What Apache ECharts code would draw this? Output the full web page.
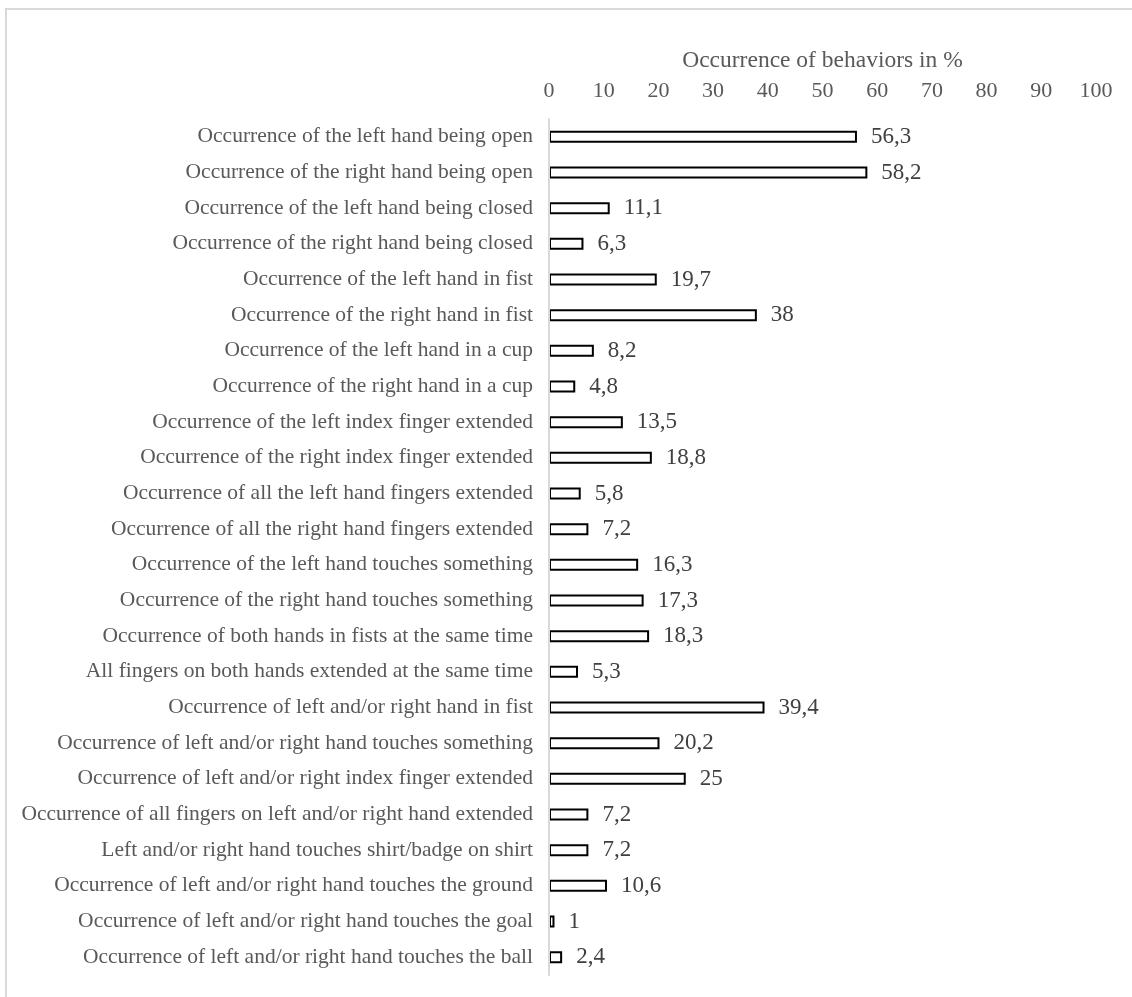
<!DOCTYPE html>
<html>
<head>
<meta charset="utf-8">
<script src="https://cdn.jsdelivr.net/npm/echarts@6/dist/echarts.min.js"></script>
<style>
  html, body { margin: 0; padding: 0; background: #fff; }
  #frame { position: absolute; left: 5px; top: 8px; width: 1140px; height: 1010px; border: 2px solid #d9d9d9; box-sizing: border-box; }
  #chart { position: absolute; left: 0; top: 0; width: 1132px; height: 997px; }
</style>
</head>
<body>
<div id="frame"></div>
<div id="chart"></div>
<script>
const categories = [
  "Occurrence of the left hand being open",
  "Occurrence of the right hand being open",
  "Occurrence of the left hand being closed",
  "Occurrence of the right hand being closed",
  "Occurrence of the left hand in fist",
  "Occurrence of the right hand in fist",
  "Occurrence of the left hand in a cup",
  "Occurrence of the right hand in a cup",
  "Occurrence of the left index finger extended",
  "Occurrence of the right index finger extended",
  "Occurrence of all the left hand fingers extended",
  "Occurrence of all the right hand fingers extended",
  "Occurrence of the left hand touches something",
  "Occurrence of the right hand touches something",
  "Occurrence of both hands in fists at the same time",
  "All fingers on both hands extended at the same time",
  "Occurrence of left and/or right hand in fist",
  "Occurrence of left and/or right hand touches something",
  "Occurrence of left and/or right index finger extended",
  "Occurrence of all fingers on left and/or right hand extended",
  "Left and/or right hand touches shirt/badge on shirt",
  "Occurrence of left and/or right hand touches the ground",
  "Occurrence of left and/or right hand touches the goal",
  "Occurrence of left and/or right hand touches the ball"
];
const values = [56.3, 58.2, 11.1, 6.3, 19.7, 38, 8.2, 4.8, 13.5, 18.8, 5.8, 7.2, 16.3, 17.3, 18.3, 5.3, 39.4, 20.2, 25, 7.2, 7.2, 10.6, 1, 2.4];
const axisTitle = "Occurrence of behaviors in %";
const axisMin = 0, axisMax = 100, axisStep = 10;

const FONT = "'Liberation Serif', 'Times New Roman', serif";
const chart = echarts.init(document.getElementById('chart'), null, { renderer: 'canvas' });
chart.setOption({
  backgroundColor: 'transparent',
  animation: false,
  grid: { left: 549, right: 36, top: 119, bottom: 22, containLabel: false },
  xAxis: {
    type: 'value', position: 'top', min: axisMin, max: axisMax, interval: axisStep,
    name: axisTitle, nameLocation: 'middle', nameGap: 46,
    nameTextStyle: { fontFamily: FONT, fontSize: 23.5, color: '#595959' },
    axisLine: { show: false }, axisTick: { show: false }, splitLine: { show: false },
    axisLabel: { fontFamily: FONT, fontSize: 22, color: '#595959', margin: 17 }
  },
  yAxis: {
    type: 'category', data: categories, inverse: true, z: 5,
    axisLine: { show: true, lineStyle: { color: '#d9d9d9', width: 2 } },
    axisTick: { show: false },
    axisLabel: { fontFamily: FONT, fontSize: 21.5, color: '#595959', margin: 16 }
  },
  series: [{
    type: 'bar', data: values, barWidth: 12,
    itemStyle: { color: '#ffffff', borderColor: '#000000', borderWidth: 2 },
    label: {
      show: true, position: 'right', distance: 14,
      fontFamily: FONT, fontSize: 23, color: '#404040',
      formatter: p => String(p.value).replace('.', ',')
    }
  }]
});
</script>
</body>
</html>
